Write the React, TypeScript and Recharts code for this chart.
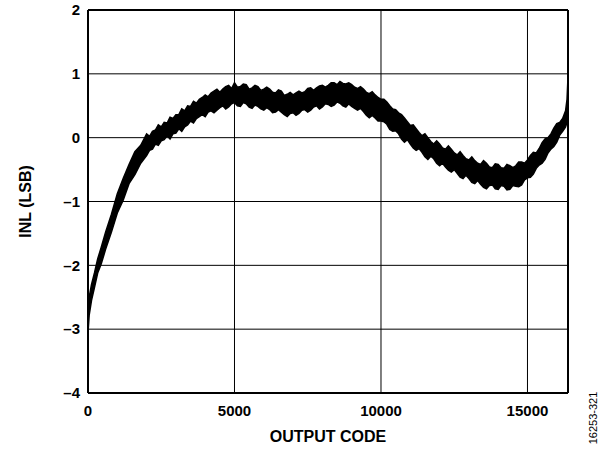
import { ComposedChart, Area, XAxis, YAxis, CartesianGrid, ReferenceLine, Label } from 'recharts'

// output codes where the INL band was read (one line per block)
const codes = [
  0, 40, 120, 220, 330, 450, 600, 800, 1000, 1200, 1400, 1600, 1800,
  2000, 2100, 2200, 2300, 2400, 2500, 2600, 2700, 2800, 2900,
  3000, 3100, 3200, 3300, 3400, 3500, 3600, 3700, 3800, 3900,
  4000, 4100, 4200, 4300, 4400, 4500, 4600, 4700, 4800, 4900,
  5000, 5100, 5200, 5300, 5400, 5500, 5600, 5700, 5800, 5900,
  6000, 6100, 6200, 6300, 6400, 6500, 6600, 6700, 6800, 6900,
  7000, 7100, 7200, 7300, 7400, 7500, 7600, 7700, 7800, 7900,
  8000, 8100, 8200, 8300, 8400, 8500, 8600, 8700, 8800, 8900,
  9000, 9100, 9200, 9300, 9400, 9500, 9600, 9700, 9800, 9900,
  10000, 10100, 10200, 10300, 10400, 10500, 10600, 10700, 10800, 10900,
  11000, 11100, 11200, 11300, 11400, 11500, 11600, 11700, 11800, 11900,
  12000, 12100, 12200, 12300, 12400, 12500, 12600, 12700, 12800, 12900,
  13000, 13100, 13200, 13300, 13400, 13500, 13600, 13700, 13800, 13900,
  14000, 14100, 14200, 14300, 14400, 14500, 14600, 14700, 14800, 14900,
  15000, 15100, 15200, 15300, 15400, 15500, 15600, 15700, 15800, 15900,
  16000, 16100, 16200, 16300, 16350, 16383,
]

// lower edge of the noisy INL trace (LSB)
const inlLow = [
  -3.05, -2.78, -2.55, -2.35, -2.12, -1.98, -1.75, -1.48, -1.18, -0.98, -0.72, -0.58, -0.4,
  -0.28, -0.2, -0.18, -0.1, -0.12, -0.05, -0.03, 0.03, -0.02, 0.06,
  0.07, 0.14, 0.1, 0.17, 0.2, 0.26, 0.23, 0.3, 0.33, 0.36,
  0.33, 0.4, 0.42, 0.39, 0.43, 0.47, 0.5, 0.45, 0.48, 0.53,
  0.55, 0.5, 0.49, 0.55, 0.53, 0.48, 0.46, 0.51, 0.49, 0.45,
  0.43, 0.47, 0.44, 0.39, 0.4, 0.44, 0.4, 0.36, 0.33, 0.38,
  0.39, 0.35, 0.38, 0.43, 0.44, 0.4, 0.43, 0.48, 0.5, 0.45,
  0.48, 0.53, 0.52, 0.49, 0.51, 0.56, 0.54, 0.5, 0.48, 0.53,
  0.49, 0.46, 0.43, 0.46, 0.41, 0.35, 0.31, 0.35, 0.31, 0.26,
  0.26, 0.25, 0.21, 0.13, 0.1, 0.11, 0.06, -0.02, -0.07, -0.03,
  -0.1, -0.16, -0.2, -0.17, -0.23, -0.3, -0.34, -0.29, -0.33, -0.4,
  -0.44, -0.4, -0.46, -0.51, -0.54, -0.5, -0.56, -0.62, -0.64, -0.59,
  -0.64, -0.7, -0.72, -0.67, -0.73, -0.78, -0.8, -0.75, -0.74, -0.8,
  -0.81, -0.75, -0.76, -0.82, -0.81, -0.75, -0.76, -0.77, -0.74, -0.66,
  -0.63, -0.62, -0.57, -0.48, -0.43, -0.4, -0.34, -0.24, -0.18, -0.14,
  -0.07, 0.04, 0.1, 0.17, 0.24, 0.3,
]

// upper edge of the noisy INL trace (LSB)
const inlHigh = [
  -2.55, -2.5, -2.3, -2.12, -1.9, -1.72, -1.48, -1.2, -0.88, -0.64, -0.42, -0.22, -0.12,
  0.06, 0.02, 0.1, 0.12, 0.2, 0.17, 0.24, 0.23, 0.32, 0.3,
  0.36, 0.36, 0.45, 0.42, 0.5, 0.49, 0.57, 0.54, 0.6, 0.63,
  0.67, 0.64, 0.7, 0.73, 0.76, 0.71, 0.76, 0.8, 0.82, 0.77,
  0.86, 0.79, 0.8, 0.84, 0.83, 0.76, 0.78, 0.82, 0.8, 0.74,
  0.76, 0.79, 0.76, 0.71, 0.7, 0.75, 0.73, 0.66, 0.68, 0.71,
  0.67, 0.7, 0.73, 0.7, 0.72, 0.77, 0.78, 0.74, 0.78, 0.81,
  0.82, 0.79, 0.82, 0.86, 0.86, 0.83, 0.88, 0.85, 0.84, 0.86,
  0.83, 0.79, 0.77, 0.8, 0.76, 0.71, 0.69, 0.72, 0.67, 0.63,
  0.6, 0.6, 0.56, 0.5, 0.45, 0.44, 0.39, 0.36, 0.31, 0.25,
  0.19, 0.2, 0.14, 0.08, 0.03, 0.06, 0.0, -0.06, -0.1, -0.05,
  -0.1, -0.16, -0.18, -0.13, -0.18, -0.24, -0.27, -0.22, -0.28, -0.33,
  -0.35, -0.3, -0.36, -0.4, -0.42, -0.36, -0.4, -0.46, -0.47, -0.41,
  -0.42, -0.47, -0.48, -0.42, -0.44, -0.47, -0.44, -0.38, -0.38, -0.4,
  -0.35, -0.28, -0.23, -0.24, -0.17, -0.08, -0.02, 0.0, 0.06, 0.15,
  0.22, 0.24, 0.3, 0.42, 0.6, 0.95,
]

const xTicks = [0, 5000, 10000, 15000]
const yTicks = [-4, -3, -2, -1, 0, 1, 2]
const yTickLabels = ['–4', '–3', '–2', '–1', '0', '1', '2']

const data = codes.map((code, i) => ({ code, band: [inlLow[i], inlHigh[i]] }))

const FONT = '"Liberation Sans", Arial, Helvetica, sans-serif'
const tickStyle = { fill: '#000', fontSize: 15, fontWeight: 700, fontFamily: FONT }

function YTitle(props: any) {
  const vb = props.viewBox
  const cx = vb.x + 25
  const cy = vb.y + vb.height / 2
  return (
    <text x={cx} y={cy} transform={`rotate(-90 ${cx} ${cy})`} textAnchor="middle" dominantBaseline="central"
      fill="#000" fontSize={16} fontWeight={700} fontFamily={FONT}>INL (LSB)</text>
  )
}

function XTitle(props: any) {
  const vb = props.viewBox
  return (
    <text x={vb.x + vb.width / 2} y={vb.y + 49} textAnchor="middle"
      fill="#000" fontSize={16} fontWeight={700} fontFamily={FONT}>OUTPUT CODE</text>
  )
}

export default function App() {
  return (
    <div style={{ position: 'absolute', left: 0, top: 0, width: 607, height: 450, background: '#fff' }}>
      <ComposedChart width={607} height={450} data={data} margin={{ top: 10, right: 39, bottom: 0, left: 0 }}>
        <CartesianGrid stroke="#000" strokeWidth={1} vertical horizontal />
        <XAxis dataKey="code" type="number" domain={[0, 16383]} ticks={xTicks} height={57}
          tickLine={false} tickSize={0} tickMargin={12} axisLine={{ stroke: '#000', strokeWidth: 2 }}
          tick={tickStyle} allowDataOverflow>
          <Label content={XTitle} />
        </XAxis>
        <YAxis type="number" domain={[-4, 2]} ticks={yTicks} width={88} interval={0}
          tickFormatter={(v: number) => yTickLabels[yTicks.indexOf(v)]}
          tickLine={false} tickSize={0} tickMargin={8} axisLine={{ stroke: '#000', strokeWidth: 2 }}
          tick={tickStyle} allowDataOverflow>
          <Label content={YTitle} />
        </YAxis>
        <ReferenceLine y={2} stroke="#000" strokeWidth={2} />
        <ReferenceLine x={16383} stroke="#000" strokeWidth={2} />
        <Area type="linear" dataKey="band" stroke="#000" strokeWidth={1.5} fill="#000" fillOpacity={1}
          isAnimationActive={false} dot={false} activeDot={false} />
      </ComposedChart>
      <div style={{
        position: 'absolute', left: 593, top: 418, transform: 'translate(-50%, -50%) rotate(-90deg)',
        fontFamily: FONT, fontSize: 11, color: '#000', whiteSpace: 'nowrap',
      }}>16253-321</div>
    </div>
  )
}
